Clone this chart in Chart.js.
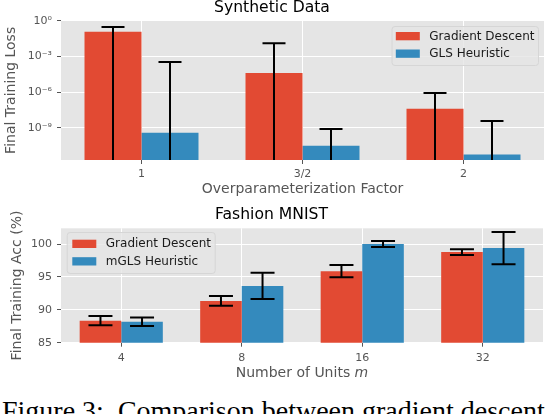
<!DOCTYPE html>
<html>
<head>
<meta charset="utf-8">
<script src="https://cdn.jsdelivr.net/npm/chart.js@4.4.0/dist/chart.umd.min.js"></script>
<style>
html, body { margin: 0; padding: 0; background: #fff; width: 550px; height: 414px; overflow: hidden; }
#synth { position: absolute; left: 0; top: 0; width: 550px; height: 200px; }
#mnist { position: absolute; left: 0; top: 200px; width: 550px; height: 185px; }
#caption { position: absolute; left: 2px; top: 397px; font-family: "Liberation Serif", "Times New Roman", serif;
  font-size: 28px; line-height: 28px; white-space: pre; color: #000; }
</style>
</head>
<body>
<canvas id="synth" width="550" height="200"></canvas>
<canvas id="mnist" width="550" height="185"></canvas>
<div id="caption">Figure 3:  Comparison between gradient descent</div>
<script>
// synthetic data (log scale)
const synthCategories = ['1', '3/2', '2'];
const synthGD = [1.2e-1, 4.1e-5, 4.1e-8];
const synthGDErr = [1.8e-1, 1.25e-2, 7.9e-7];
const synthGLS = [3.9e-10, 3.2e-11, 5.9e-12];
const synthGLSErr = [3.4e-4, 7.6e-10, 3.7e-9];
const synthTicks = [1, 1e-3, 1e-6, 1e-9];

// fashion mnist
const mnistCategories = ['4', '8', '16', '32'];
const mnistGD = [88.35, 91.36, 95.88, 98.78];
const mnistGDErr = [0.7, 0.73, 0.93, 0.44];
const mnistGLS = [88.2, 93.64, 100.0, 99.39];
const mnistGLSErr = [0.65, 2.0, 0.46, 2.45];
const mnistTicks = [85, 90, 95, 100];

const RED = '#E24A33', BLUE = '#348ABD';
const FONT = "'DejaVu Sans', sans-serif";
Chart.defaults.font.family = FONT;
Chart.defaults.color = '#555';

const sup = { '0': '\u2070', '1': '\u00b9', '2': '\u00b2', '3': '\u00b3', '4': '\u2074', '5': '\u2075',
  '6': '\u2076', '7': '\u2077', '8': '\u2078', '9': '\u2079', '-': '\u207b' };
function powLabel(v) {
    const e = String(Math.round(Math.log10(v)));
    return '10' + e.split('').map(c => sup[c]).join('');
}

const gridBg = {
    id: 'gridBg',
    beforeDraw(chart) {
        const { ctx, chartArea: a } = chart;
        ctx.save();
        ctx.fillStyle = '#E5E5E5';
        ctx.fillRect(a.left, a.top, a.right - a.left, a.bottom - a.top);
        ctx.restore();
    }
};

const errBars = {
    id: 'errBars',
    afterDatasetsDraw(chart, args, opts) {
        const { ctx, chartArea: a } = chart;
        const y = chart.scales.y;
        ctx.save();
        ctx.beginPath();
        ctx.rect(a.left, a.top - 2, a.right - a.left, a.bottom - a.top + 2);
        ctx.clip();
        ctx.strokeStyle = '#000';
        ctx.lineWidth = 2;
        chart.data.datasets.forEach((ds, i) => {
            chart.getDatasetMeta(i).data.forEach((bar, j) => {
                const v = ds.data[j], e = ds.errors[j];
                const hi = y.getPixelForValue(v + e);
                const lo = v - e > 0 ? y.getPixelForValue(v - e) : a.bottom + 20;
                const w = opts.cap;
                ctx.beginPath();
                ctx.moveTo(bar.x, hi); ctx.lineTo(bar.x, lo);
                ctx.moveTo(bar.x - w, hi); ctx.lineTo(bar.x + w, hi);
                ctx.moveTo(bar.x - w, lo); ctx.lineTo(bar.x + w, lo);
                ctx.stroke();
            });
        });
        ctx.restore();
    }
};

const boxLegend = {
    id: 'boxLegend',
    afterDraw(chart, args, o) {
        const { ctx, chartArea: a } = chart;
        const x = o.right ? a.right - o.dx - o.w : a.left + o.dx;
        const y = a.top + o.dy;
        ctx.save();
        ctx.fillStyle = 'rgba(229,229,229,0.8)';
        ctx.strokeStyle = '#d6d6d6';
        ctx.lineWidth = 1;
        ctx.beginPath();
        ctx.roundRect(x + 0.5, y + 0.5, o.w, o.h, 3);
        ctx.fill();
        ctx.stroke();
        ctx.font = '12px ' + FONT;
        ctx.textBaseline = 'middle';
        chart.data.datasets.forEach((ds, i) => {
            const ry = y + o.sy + i * 17.5;
            ctx.fillStyle = ds.backgroundColor;
            ctx.fillRect(x + o.sx, ry, 24, 8.3);
            ctx.fillStyle = '#1a1a1a';
            ctx.fillText(ds.label, x + o.sx + 33.5, ry + 4.5);
        });
        ctx.restore();
    }
};

// x title with italic m
const unitsTitle = {
    id: 'unitsTitle',
    afterDraw(chart) {
        const { ctx, chartArea: a } = chart;
        const t1 = 'Number of Units ', t2 = 'm';
        ctx.save();
        ctx.fillStyle = '#555';
        ctx.textBaseline = 'middle';
        ctx.font = '14px ' + FONT;
        const w1 = ctx.measureText(t1).width;
        ctx.font = 'italic 14px ' + FONT;
        const w2 = ctx.measureText(t2).width;
        const x0 = (a.left + a.right) / 2 - (w1 + w2) / 2;
        const yy = 173;
        ctx.font = '14px ' + FONT;
        ctx.fillText(t1, x0, yy);
        ctx.font = 'italic 14px ' + FONT;
        ctx.fillText(t2, x0 + w1, yy);
        ctx.restore();
    }
};

const tickFont = { size: 11 };
function axisGrid() {
    return { color: '#fff', lineWidth: 1, tickColor: '#555', tickLength: 4, offset: false };
}

new Chart(document.getElementById('synth'), {
    type: 'bar',
    data: {
        labels: synthCategories,
        datasets: [
            { label: 'Gradient Descent', data: synthGD, errors: synthGDErr, backgroundColor: RED },
            { label: 'GLS Heuristic', data: synthGLS, errors: synthGLSErr, backgroundColor: BLUE }
        ]
    },
    options: {
        responsive: false,
        animation: false,
        devicePixelRatio: 1,
        layout: { padding: { left: 0, right: 6, top: 0, bottom: 0 } },
        datasets: { bar: { barPercentage: 1, categoryPercentage: 0.708, borderWidth: 0 } },
        plugins: {
            legend: { display: false },
            tooltip: { enabled: false },
            title: { display: true, text: 'Synthetic Data', color: '#000',
                font: { size: 15.6, weight: 'normal', lineHeight: 1 }, padding: { top: 0.5, bottom: 4.6 } },
            errBars: { cap: 11.5 },
            boxLegend: { right: true, dx: 6, dy: 5.3, w: 146.5, h: 39, sx: 4.3, sy: 6 }
        },
        scales: {
            x: {
                grid: axisGrid(),
                border: { display: false },
                ticks: { font: tickFont, padding: 4 },
                title: { display: true, text: 'Overparameterization Factor', font: { size: 14 }, padding: { top: 0, bottom: 2.6 } },
                afterFit(s) { s.height = 40; }
            },
            y: {
                type: 'logarithmic',
                min: Math.pow(10, -11.7),
                max: 1,
                grid: axisGrid(),
                border: { display: false },
                ticks: { font: tickFont, padding: 5, callback: v => powLabel(v) },
                afterBuildTicks(s) { s.ticks = synthTicks.map(v => ({ value: v })); },
                title: { display: true, text: 'Final Training Loss', font: { size: 14 }, padding: { top: 3 } },
                afterFit(s) { s.width = 61; }
            }
        }
    },
    plugins: [gridBg, errBars, boxLegend]
});

new Chart(document.getElementById('mnist'), {
    type: 'bar',
    data: {
        labels: mnistCategories,
        datasets: [
            { label: 'Gradient Descent', data: mnistGD, errors: mnistGDErr, backgroundColor: RED },
            { label: 'mGLS Heuristic', data: mnistGLS, errors: mnistGLSErr, backgroundColor: BLUE }
        ]
    },
    options: {
        responsive: false,
        animation: false,
        devicePixelRatio: 1,
        layout: { padding: { left: 0, right: 7, top: 0, bottom: 0 } },
        datasets: { bar: { barPercentage: 1, categoryPercentage: 0.69, borderWidth: 0 } },
        plugins: {
            legend: { display: false },
            tooltip: { enabled: false },
            title: { display: true, text: 'Fashion MNIST', color: '#000',
                font: { size: 15.6, weight: 'normal', lineHeight: 1 }, padding: { top: 7.2, bottom: 5.5 } },
            errBars: { cap: 12 },
            boxLegend: { right: false, dx: 5.7, dy: 3.7, w: 148, h: 41, sx: 5.6, sy: 7.7 }
        },
        scales: {
            x: {
                grid: axisGrid(),
                border: { display: false },
                ticks: { font: tickFont, padding: 5 },
                afterFit(s) { s.height = 42.3; }
            },
            y: {
                min: 85,
                max: 102.4,
                grid: axisGrid(),
                border: { display: false },
                ticks: { font: tickFont, padding: 5 },
                afterBuildTicks(s) { s.ticks = mnistTicks.map(v => ({ value: v })); },
                title: { display: true, text: 'Final Training Acc (%)', font: { size: 14 }, padding: { top: 9 } },
                afterFit(s) { s.width = 61; }
            }
        }
    },
    plugins: [gridBg, errBars, boxLegend, unitsTitle]
});
</script>
</body>
</html>
